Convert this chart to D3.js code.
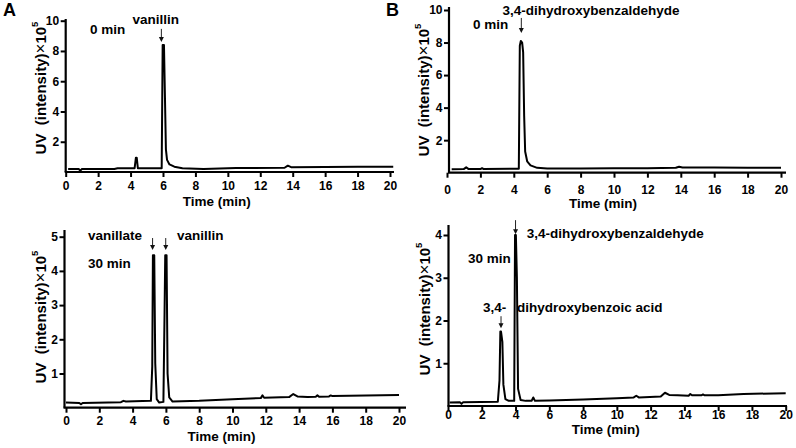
<!DOCTYPE html>
<html>
<head>
<meta charset="utf-8">
<script src="https://cdn.jsdelivr.net/npm/d3@7"></script>
<style>
  body { margin: 0; background: #fff; }
  svg { display: block; }
  text { font-family: "Liberation Sans", Arial, sans-serif; font-weight: bold; fill: #000; }
</style>
</head>
<body>
<div id="chart"></div>
<script>
// chromatogram traces (time in min, UV in 10^5)
const timesA0 = [0.15, 0.8, 0.9, 1.0, 3.0, 3.2, 4.25, 4.33, 4.38, 4.45, 5.92, 5.98, 6.06, 6.12, 6.18, 6.25, 6.4, 6.7, 7.2, 8.5, 10.5, 13.5, 13.7, 13.9, 16, 18, 20.2];
const uvA0 = [0.2, 0.2, 0.09, 0.2, 0.2, 0.25, 0.25, 0.95, 0.95, 0.25, 0.25, 8.4, 8.4, 5.0, 1.5, 0.8, 0.5, 0.35, 0.25, 0.2, 0.26, 0.28, 0.42, 0.32, 0.33, 0.35, 0.35];

const timesB0 = [0.28, 1.0, 1.15, 1.3, 2.0, 2.1, 2.2, 4.3, 4.36, 4.42, 4.5, 4.56, 4.62, 4.68, 4.8, 5.0, 5.4, 6, 8, 10, 12, 13.7, 13.9, 14.1, 16, 18, 20];
const uvB0 = [0.21, 0.22, 0.33, 0.22, 0.22, 0.28, 0.22, 0.25, 7.8, 8.1, 8.0, 7.4, 3.5, 1.3, 0.7, 0.45, 0.3, 0.26, 0.26, 0.27, 0.28, 0.3, 0.37, 0.32, 0.32, 0.31, 0.31];

const timesA30 = [0, 0.8, 0.9, 1.0, 3.3, 3.45, 3.6, 5.1, 5.18, 5.22, 5.3, 5.36, 5.45, 5.6, 5.85, 5.92, 5.96, 6.04, 6.1, 6.2, 6.4, 8, 10, 11.7, 11.8, 11.9, 13.4, 13.65, 13.9, 14.5, 15.0, 15.1, 15.2, 15.8, 15.9, 16.0, 18, 20];
const uvA30 = [0.15, 0.14, 0.1, 0.14, 0.16, 0.2, 0.18, 0.2, 1.2, 4.46, 4.46, 1.3, 0.25, 0.15, 0.17, 2.8, 4.46, 4.46, 1.0, 0.3, 0.18, 0.2, 0.25, 0.28, 0.36, 0.29, 0.31, 0.4, 0.33, 0.31, 0.32, 0.36, 0.32, 0.33, 0.36, 0.34, 0.36, 0.37];

const timesB30 = [0.1, 0.7, 0.8, 0.9, 2.95, 3.05, 3.1, 3.14, 3.22, 3.28, 3.4, 3.6, 3.92, 3.97, 4.02, 4.08, 4.15, 4.3, 4.6, 4.95, 5.05, 5.15, 6, 8, 10, 11.0, 11.15, 11.3, 12.6, 12.85, 13.1, 13.6, 14.25, 14.35, 14.45, 15.0, 15.1, 15.2, 16, 17.5, 20];
const uvB30 = [0.08, 0.09, 0.05, 0.09, 0.1, 0.6, 1.74, 1.74, 1.5, 0.5, 0.16, 0.12, 0.12, 4.0, 4.0, 3.0, 0.4, 0.14, 0.12, 0.12, 0.2, 0.12, 0.13, 0.15, 0.18, 0.2, 0.24, 0.2, 0.22, 0.31, 0.26, 0.25, 0.24, 0.28, 0.25, 0.25, 0.27, 0.25, 0.25, 0.28, 0.3];

// tick labels
const xTicks = [0, 2, 4, 6, 8, 10, 12, 14, 16, 18, 20];
const yTicksTop = [2, 4, 6, 8, 10];
const yTicksA30 = [1, 2, 3, 4, 5];
const yTicksB30 = [1, 2, 3, 4];

const width = 796;
const height = 448;

const svg = d3.select('#chart').append('svg')
  .attr('width', width).attr('height', height);

// panel layout: x range for 0..20 min, y pixel of 0 and of yMax
const panels = [
  {letter: 'A', times: timesA0, uv: uvA0, yTicks: yTicksTop, yMax: 10,
    xLeft: 65.7, xRight: 390, yBase: 172, yTop: 20.7, yAxisX: 65.7, axisTop: 19, axisRight: 394,
    xPad: 4.5, titleY: 206, labelX: 40, labelY: 88,
    arrows: [{t: 5.9, v: 8.6, len: 13}],
    notes: [{t: 5.55, v: 9.78, text: 'vanillin', anchor: 'middle'},
            {t: 1.5, v: 9.15, text: '0 min', anchor: 'start'}]},
  {letter: 'B', times: timesB0, uv: uvB0, yTicks: yTicksTop, yMax: 10,
    xLeft: 447, xRight: 781, yBase: 172.7, yTop: 10, yAxisX: 449, axisTop: 7, axisRight: 786,
    xPad: 7.5, titleY: 208, labelX: 423, labelY: 90,
    arrows: [{t: 4.45, v: 8.59, len: 15}],
    notes: [{t: 8.62, v: 9.69, text: '3,4-dihydroxybenzaldehyde', anchor: 'middle'},
            {t: 1.56, v: 8.81, text: '0 min', anchor: 'start'}]},
  {letter: null, times: timesA30, uv: uvA30, yTicks: yTicksA30, yMax: 5,
    xLeft: 66, xRight: 399, yBase: 407.7, yTop: 236.7, yAxisX: 64.5, axisTop: 230, axisRight: 406,
    xPad: 4, titleY: 441, labelX: 40, labelY: 317,
    arrows: [{t: 5.2, v: 4.61, len: 12}, {t: 5.99, v: 4.61, len: 12}],
    notes: [{t: 1.32, v: 4.9, text: 'vanillate', anchor: 'start'},
            {t: 6.67, v: 4.9, text: 'vanillin', anchor: 'start'},
            {t: 1.32, v: 4.09, text: '30 min', anchor: 'start'}]},
  {letter: null, times: timesB30, uv: uvB30, yTicks: yTicksB30, yMax: 4,
    xLeft: 448, xRight: 785.7, yBase: 406, yTop: 235, yAxisX: 448.5, axisTop: 225, axisRight: 787,
    xPad: -1, titleY: 434, labelX: 424, labelY: 309,
    arrows: [{t: 3.14, v: 1.82, len: 12}, {t: 4.0, v: 4.02, len: 14}],
    notes: [{t: 4.66, v: 3.92, text: '3,4-dihydroxybenzaldehyde', anchor: 'start'},
            {t: 1.18, v: 3.34, text: '30 min', anchor: 'start'},
            {t: 2.07, v: 2.21, text: '3,4-', anchor: 'start'},
            {t: 4.09, v: 2.21, text: 'dihydroxybenzoic acid', anchor: 'start'}]}
];

panels.forEach(p => drawPanel(p));

function drawPanel(p) {
  const x = d3.scaleLinear().domain([0, 20]).range([p.xLeft, p.xRight]);
  const y = d3.scaleLinear().domain([0, p.yMax]).range([p.yBase, p.yTop]);
  const g = svg.append('g');

  // x axis
  const xa = g.append('g')
    .attr('transform', `translate(0, ${p.yBase})`)
    .call(d3.axisBottom(x).tickValues(xTicks).tickFormat(d3.format('d'))
      .tickSize(5).tickPadding(p.xPad).tickSizeOuter(0));
  // y axis
  const ya = g.append('g')
    .attr('transform', `translate(${p.yAxisX}, 0)`)
    .call(d3.axisLeft(y).tickValues(p.yTicks).tickFormat(d3.format('d'))
      .tickSize(5).tickPadding(1.5).tickSizeOuter(0));
  [xa, ya].forEach(a => {
    a.select('.domain').remove();
    a.selectAll('line').attr('stroke', '#000').attr('stroke-width', 2);
    a.selectAll('text').attr('font-size', 12).attr('font-family', '"Liberation Sans", Arial, sans-serif')
      .attr('font-weight', 'bold').attr('fill', '#000');
  });
  g.append('line')
    .attr('x1', p.yAxisX - 1).attr('x2', p.axisRight)
    .attr('y1', p.yBase).attr('y2', p.yBase)
    .attr('stroke', '#000').attr('stroke-width', 2.2);
  g.append('line')
    .attr('x1', p.yAxisX).attr('x2', p.yAxisX)
    .attr('y1', p.yBase).attr('y2', p.axisTop)
    .attr('stroke', '#000').attr('stroke-width', 2.2);

  // trace
  const pts = p.times.map((t, i) => [t, p.uv[i]]);
  g.append('path')
    .datum(pts)
    .attr('fill', 'none')
    .attr('stroke', '#000')
    .attr('stroke-width', 2)
    .attr('stroke-linejoin', 'round')
    .attr('d', d3.line().x(d => x(d[0])).y(d => y(d[1])));

  // arrows
  p.arrows.forEach(a => {
    const ax = x(a.t);
    const tip = y(a.v);
    g.append('line')
      .attr('x1', ax).attr('x2', ax)
      .attr('y1', tip - a.len).attr('y2', tip - 3)
      .attr('stroke', '#222').attr('stroke-width', 1);
    g.append('path')
      .attr('d', `M${ax - 2.5},${tip - 5}L${ax + 2.5},${tip - 5}L${ax},${tip}Z`)
      .attr('fill', '#111');
  });

  // annotations
  p.notes.forEach(n => {
    g.append('text')
      .attr('x', x(n.t)).attr('y', y(n.v))
      .attr('text-anchor', n.anchor)
      .attr('font-size', 13.5)
      .text(n.text);
  });

  // axis titles
  g.append('text')
    .attr('x', (p.xLeft + p.xRight) / 2 - 11)
    .attr('y', p.titleY)
    .attr('text-anchor', 'middle')
    .attr('font-size', 13.5)
    .text('Time (min)');

  const yl = g.append('text')
    .attr('transform', `translate(${p.labelX}, ${p.labelY}) rotate(-90)`)
    .attr('text-anchor', 'middle')
    .attr('dominant-baseline', 'central')
    .attr('font-size', 15)
    .style('white-space', 'pre');
  yl.append('tspan').text('UV  (intensity)');
  yl.append('tspan').attr('font-weight', 'normal').attr('font-size', 17).text('×');
  yl.append('tspan').text('10');
  yl.append('tspan').attr('font-size', 9.5).attr('dy', -6).text('5');

  if (p.letter) {
    g.append('text')
      .attr('x', p.letter === 'A' ? 3 : 386)
      .attr('y', 16)
      .attr('font-size', 18)
      .text(p.letter);
  }
}
</script>
</body>
</html>
